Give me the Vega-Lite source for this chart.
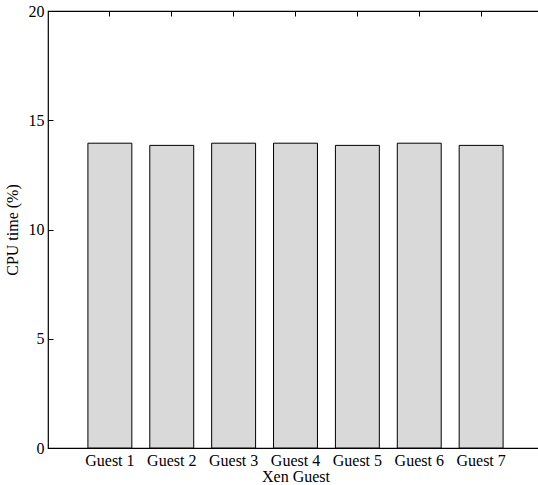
{
  "$schema": "https://vega.github.io/schema/vega-lite/v6.json",
  "autosize": "none",
  "padding": {"left": 48, "top": 11, "right": 0, "bottom": 37},
  "width": 495,
  "height": 437,
  "config": {
    "view": {"stroke": "black", "strokeWidth": 1.2},
    "font": "Liberation Serif",
    "axis": {
      "labelFont": "Liberation Serif",
      "titleFont": "Liberation Serif",
      "labelColor": "black",
      "titleColor": "black",
      "titleFontWeight": "normal",
      "domain": false,
      "grid": false,
      "tickColor": "black",
      "tickWidth": 1
    }
  },
  "data": {
    "values": [
      {"guest": "Guest 1", "cpu": 13.95},
      {"guest": "Guest 2", "cpu": 13.85},
      {"guest": "Guest 3", "cpu": 13.95},
      {"guest": "Guest 4", "cpu": 13.95},
      {"guest": "Guest 5", "cpu": 13.85},
      {"guest": "Guest 6", "cpu": 13.95},
      {"guest": "Guest 7", "cpu": 13.85}
    ]
  },
  "layer": [
    {
      "mark": {"type": "bar", "fill": "#d9d9d9", "stroke": "black", "strokeWidth": 1},
      "encoding": {
        "x": {
          "field": "guest", "type": "nominal",
          "scale": {"paddingInner": 0.29, "paddingOuter": 0.645},
          "axis": {"orient": "bottom", "title": "Xen Guest", "labelAngle": 0, "labelFontSize": 16, "titleFontSize": 16, "tickSize": -5, "labelPadding": 9, "titlePadding": 0}
        },
        "y": {
          "field": "cpu", "type": "quantitative",
          "scale": {"domain": [0, 20], "nice": false},
          "axis": {"orient": "left", "title": "CPU time (%)", "values": [0, 5, 10, 15, 20], "labelFontSize": 16, "titleFontSize": 16, "tickSize": -5, "labelPadding": 9, "titlePadding": 8}
        }
      }
    },
    {
      "mark": {"type": "bar", "opacity": 0},
      "encoding": {
        "x": {
          "field": "guest", "type": "nominal",
          "axis": {"orient": "top", "title": null, "labels": false, "tickSize": -5}
        },
        "y": {
          "field": "cpu", "type": "quantitative",
          "axis": {"orient": "right", "title": null, "labels": false, "values": [0, 5, 10, 15, 20], "tickSize": -5}
        }
      }
    }
  ],
  "resolve": {"axis": {"x": "independent", "y": "independent"}}
}
